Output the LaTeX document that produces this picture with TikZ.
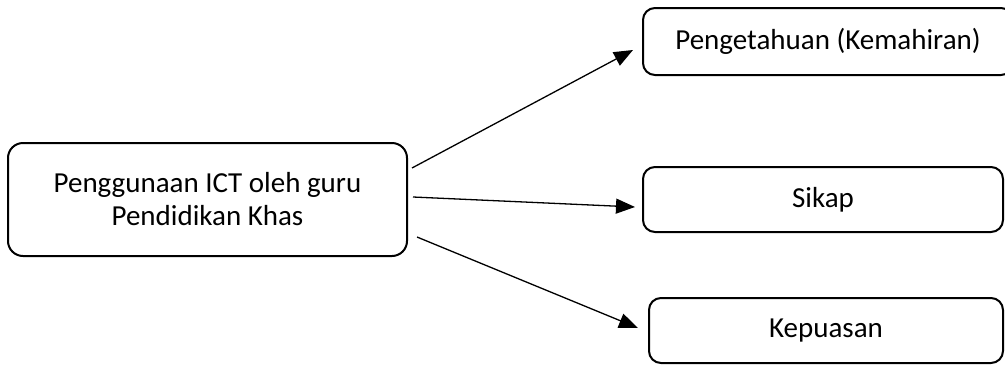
\documentclass[tikz,border=0pt]{standalone}
\usepackage{fontspec}
\setmainfont{Carlito}
\usetikzlibrary{arrows.meta}
\begin{document}
\begin{tikzpicture}[x=1pt,y=-1pt,
  box/.style={draw=black,line width=2pt,rounded corners=12pt,inner sep=0pt,align=center,
    font=\fontsize{29pt}{33pt}\selectfont},
  conn/.style={line width=1.3pt,-{Triangle[length=19pt,width=15pt]}}]
\useasboundingbox (0,0) rectangle (1005,365);
\clip (0,0) rectangle (1005,365);
\node[box,rounded corners=15pt,minimum width=399pt,minimum height=113pt] (src) at (207.5,199.5) {Penggunaan ICT oleh guru\\Pendidikan Khas};
\node[box,minimum width=370pt,minimum height=67pt] (k) at (828,41.5) {Pengetahuan (Kemahiran)};
\node[box,minimum width=360pt,minimum height=65pt] (s) at (823,199.5) {Sikap};
\node[box,minimum width=354pt,minimum height=65pt] (p) at (826,330.5) {Kepuasan};
\coordinate (s1) at (412,168);
\coordinate (s2) at (413,197);
\coordinate (s3) at (417,237);
\coordinate (t1) at (633,50);
\coordinate (t2) at (635,207);
\coordinate (t3) at (638,328);
\draw[conn] (s1) -- (t1);
\draw[conn] (s2) -- (t2);
\draw[conn] (s3) -- (t3);
\end{tikzpicture}
\end{document}
